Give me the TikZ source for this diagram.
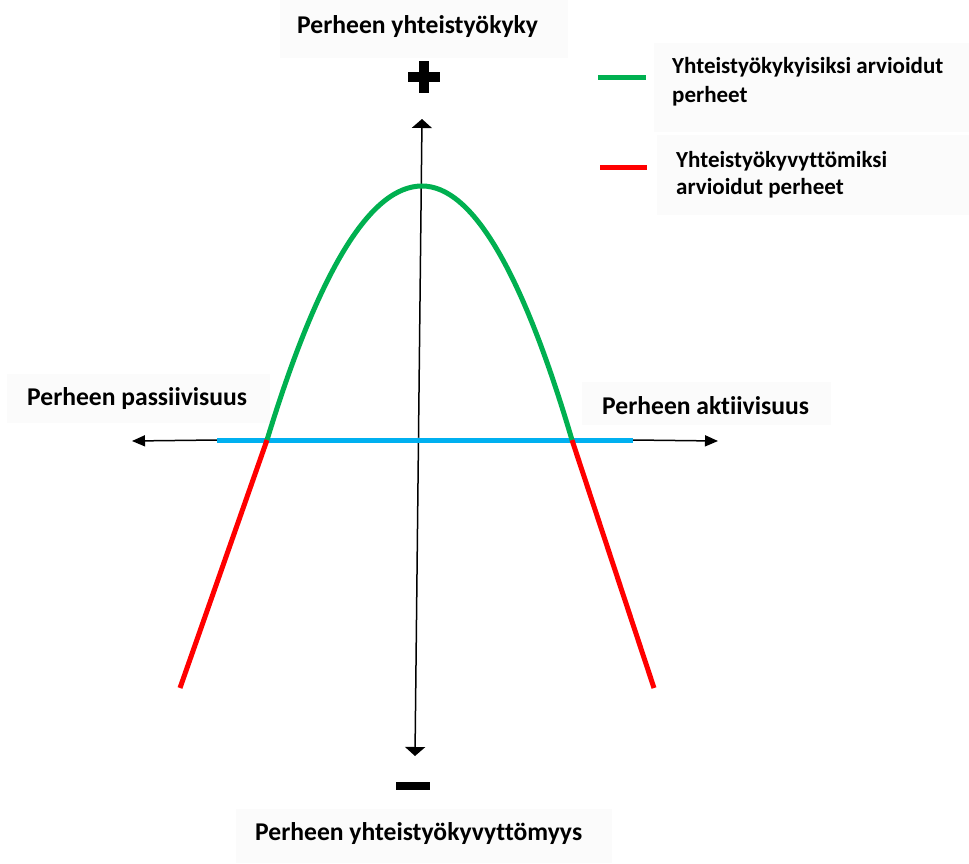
\documentclass[tikz,border=0pt]{standalone}
\usepackage{fontspec}
\setmainfont{Carlito}[Ligatures={NoCommon}]
\usetikzlibrary{arrows.meta}
\definecolor{cgreen}{HTML}{00B050}
\definecolor{cred}{HTML}{FF0000}
\definecolor{cblue}{HTML}{00B0F0}
\definecolor{boxbg}{HTML}{FBFBFB}
\begin{document}
\begin{tikzpicture}[x=1pt,y=-1pt,
  lbl/.style={font=\bfseries\fontsize{25.6}{28}\selectfont, text=black, inner sep=0pt, anchor=base west, align=left},
  leglbl/.style={lbl, font=\bfseries\fontsize{23}{#1}\selectfont},
  bgbox/.style={fill=boxbg, draw=none},
  axisv/.style={line width=1.5pt, -{Triangle[length=9pt,width=20pt]}},
  axish/.style={line width=1.5pt, -{Triangle[length=13pt,width=11pt]}},
  curve/.style={line width=5pt},
  sign/.style={fill=black, draw=none}
]
\useasboundingbox (0,0) rectangle (969,864);
% faint text backgrounds
\fill[bgbox] (280,0) rectangle (568,58);
\fill[bgbox] (654,43) rectangle (969,132);
\fill[bgbox] (657,135) rectangle (969,215);
\fill[bgbox] (7,374) rectangle (270,423);
\fill[bgbox] (582,382) rectangle (831,425);
\fill[bgbox] (236,809) rectangle (612,863);

% coordinates
\coordinate (vtop) at (422,119);
\coordinate (vbot) at (415,756);
\coordinate (vmid) at (418.5,437.5);
\coordinate (hl) at (132,441);
\coordinate (hr) at (718,441);
\coordinate (bl) at (217,440);
\coordinate (br) at (633,440);
\coordinate (pl) at (267,440);
\coordinate (pr) at (572,440);
\coordinate (peak) at (422,186);
\coordinate (rl) at (180,688);
\coordinate (rr) at (654,688);

% axes
\draw[axisv] (vmid) -- (vtop);
\draw[axisv] (vmid) -- (vbot);
\draw[axish] (bl) -- (hl);
\draw[axish] (br) -- (hr);

% curves
\draw[curve, cblue] (bl) -- (br);
\draw[curve, cgreen] (pl) .. controls (318.7,270.7) and (370.3,186) .. (peak)
  .. controls (472,186) and (522,270.7) .. (pr);
\draw[curve, cred] (pl) -- (rl);
\draw[curve, cred] (pr) -- (rr);

% signs
\fill[sign] (408,72) rectangle (440,82);
\fill[sign] (419,61) rectangle (429,93);
\fill[sign] (396,782) rectangle (430,790);

% legend
\coordinate (g1) at (598,78);
\coordinate (g2) at (646,78);
\coordinate (r1) at (600,167);
\coordinate (r2) at (647,167);
\draw[curve, cgreen] (g1) -- (g2);
\draw[curve, cred] (r1) -- (r2);

% labels
\node[lbl] (title) at (297,34) {Perheen yhteistyökyky};
\node[leglbl=29] (leg1) at (672,103) {Yhteistyökykyisiksi arvioidut\\perheet};
\node[leglbl=27] (leg2) at (676,194) {Yhteistyökyvyttömiksi\\arvioidut perheet};
\node[lbl] (pass) at (27,405) {Perheen passiivisuus};
\node[lbl] (akt) at (602,414) {Perheen aktiivisuus};
\node[lbl] (bottom) at (255,840) {Perheen yhteistyökyvyttömyys};
\end{tikzpicture}
\end{document}
